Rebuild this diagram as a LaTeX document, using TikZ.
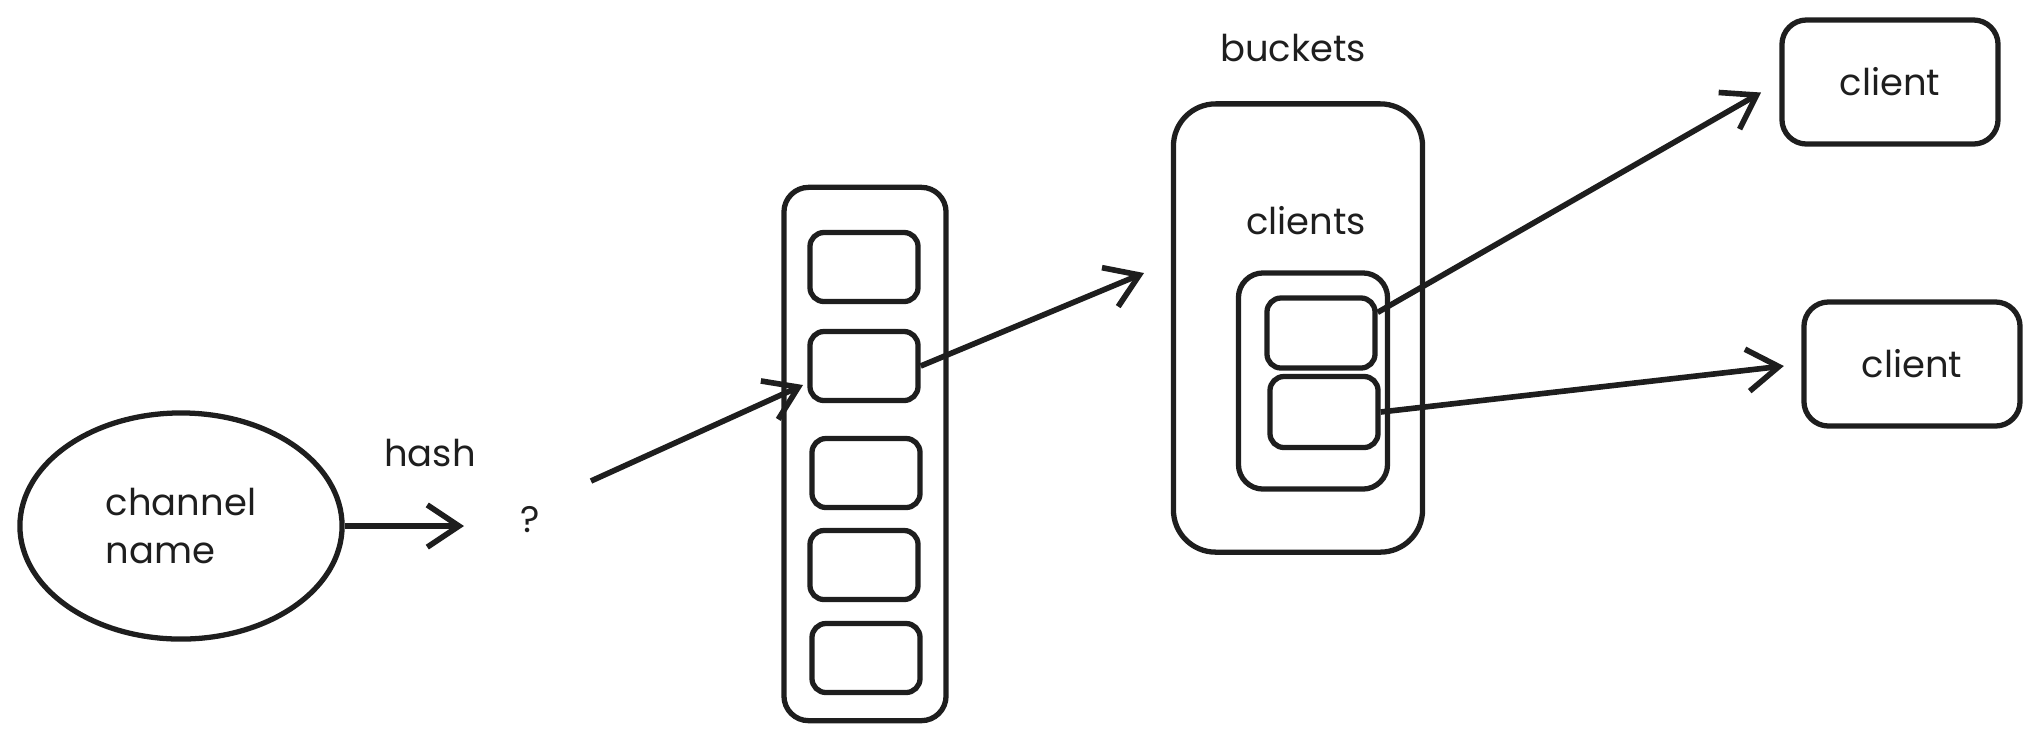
\documentclass[tikz,border=0pt]{standalone}
\usepackage{fontspec}
\setmainfont{Poppins}
\usepackage{tikz}
\usepackage{xcolor}
\usetikzlibrary{arrows.meta, positioning, shapes.geometric}
\definecolor{ink}{HTML}{1E1E1E}
\tikzset{
  font=\fontsize{10.5}{13.5}\selectfont,
  >={Straight Barb[length=9pt, width=12pt]},
  %
  sketch/.style={draw=ink, line width=1.5pt, text=ink},
  blob/.style={sketch, ellipse, align=left, inner sep=0pt},
  frame/.style={sketch, rectangle, rounded corners=7pt},
  slot/.style={sketch, rectangle, rounded corners=4pt,
               minimum width=1.08cm, minimum height=0.69cm},
  card/.style={sketch, rectangle, rounded corners=7pt,
               minimum width=2.16cm, minimum height=1.24cm},
  %
  flow/.style={draw=ink, line width=1.6pt, ->},
  lbl/.style={text=ink, inner sep=1pt},
}

\begin{document}
\begin{tikzpicture}[x=0.01cm, y=-0.01cm]

  \useasboundingbox (0,0) rectangle (2038,744);

  % input and hash
  \node[blob, minimum width=3.22cm, minimum height=2.26cm] (chan) at (181,526)
    {channel\\name};
  \node[lbl] (hashlbl) at (430,453) {hash};
  \node[lbl] (qmark) at (530,520) {?};
  \coordinate (hashend) at (464,526);
  \coordinate (qout) at (591,481);

  % bucket column
  \node[frame, minimum width=1.62cm, minimum height=5.33cm] (column) at (865,454) {};
  \node[slot] (cell1) at (864,267) {};
  \node[slot] (cell2) at (864,366) {};
  \node[slot] (cell3) at (866,473) {};
  \node[slot] (cell4) at (864,565) {};
  \node[slot] (cell5) at (866,658) {};
  \coordinate (cellin) at (803,385);

  % one bucket
  \node[lbl] (bucketslbl) at (1293,48) {buckets};
  \node[frame, rounded corners=12pt, minimum width=2.49cm, minimum height=4.48cm]
    (bucket) at (1298,328) {};
  \node[lbl] (clientslbl) at (1306,221) {clients};
  \node[frame, minimum width=1.49cm, minimum height=2.16cm] (list) at (1313,381) {};
  \node[slot, minimum height=0.70cm] (sub1) at (1321,333) {};
  \node[slot, minimum height=0.71cm] (sub2) at (1324,412) {};
  \coordinate (bucketin) at (1144,273);

  % clients
  \node[card] (client1) at (1890,82) {client};
  \node[card] (client2) at (1912,364) {client};

  % connectors
  \draw[flow] (chan.east) -- (hashend);
  \draw[flow] (qout) -- (cellin);
  \draw[flow] (cell2.east) -- (bucketin);
  \draw[flow, shorten >=6pt] (sub1.20) -- (client1.west);
  \draw[flow, shorten >=5pt] (sub2.east) -- (client2.west);

\end{tikzpicture}
\end{document}
